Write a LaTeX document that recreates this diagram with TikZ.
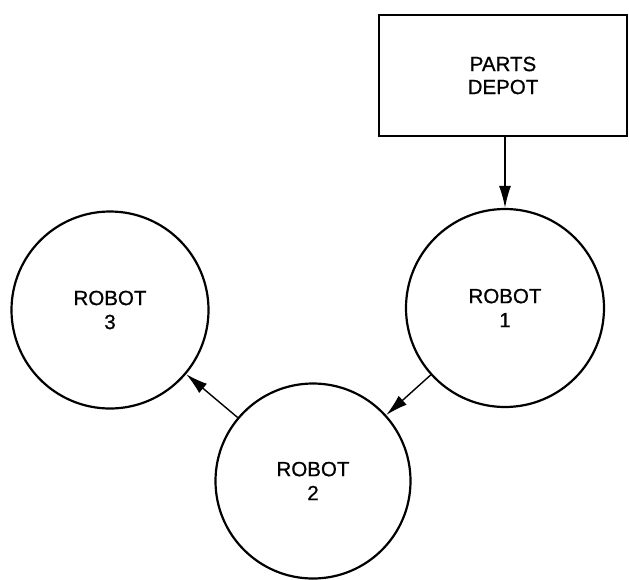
\documentclass[tikz,border=0pt]{standalone}
\usepackage{fontspec}
\setmainfont{Liberation Sans}[FakeBold=0.8]
\usetikzlibrary{arrows.meta}
\begin{document}
\begin{tikzpicture}[x=1pt,y=-1pt,
  robot/.style={draw,circle,line width=2.2pt,inner sep=0pt,align=center,
    font=\fontsize{20.5}{24}\selectfont},
  depot/.style={draw,rectangle,line width=2.6pt,inner sep=0pt,align=center,
    minimum width=248pt,minimum height=121pt,font=\fontsize{20.5}{23}\selectfont},
  flow/.style={line width=1.4pt,-{Latex[length=22pt,width=12pt]}}]
\useasboundingbox (0,0) rectangle (629,579);
\node[depot] (pd) at (503,75.5) {PARTS\\DEPOT};
\node[robot,minimum size=198pt] (r1) at (505,308) {ROBOT\\1};
\node[robot,minimum size=197pt] (r3) at (110,310) {ROBOT\\3};
\node[robot,minimum size=195pt] (r2) at (313,481) {ROBOT\\2};
\draw[flow] (pd.south -| r1.north) -- (r1.north);
\draw[flow] (r1) -- (r2);
\draw[flow] (r2) -- (r3);
\end{tikzpicture}
\end{document}
